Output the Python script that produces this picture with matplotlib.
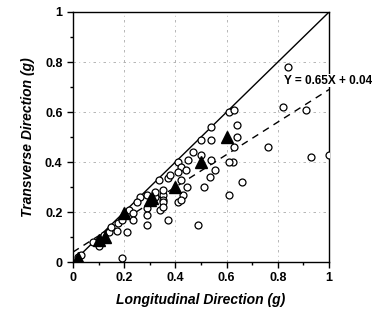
import numpy as np
import matplotlib
matplotlib.use("Agg")
import matplotlib.pyplot as plt

plt.rcParams["font.family"] = ["Liberation Sans", "DejaVu Sans"]

# open circles: individual records (longitudinal, transverse)
circ_x = [0.02, 0.03, 0.08, 0.10, 0.12, 0.14, 0.15, 0.17, 0.175, 0.19, 0.21, 0.22, 0.235, 0.235,
          0.19, 0.26, 0.25, 0.29, 0.32, 0.35, 0.29, 0.29, 0.29, 0.34, 0.335, 0.37, 0.38, 0.35,
          0.32, 0.35, 0.35, 0.35, 0.37, 0.41, 0.45, 0.42, 0.44, 0.41, 0.42, 0.445, 0.43, 0.41,
          0.42, 0.47, 0.50, 0.50, 0.54, 0.54, 0.54, 0.555, 0.535, 0.51, 0.49, 0.61, 0.63, 0.64,
          0.64, 0.63, 0.625, 0.61, 0.66, 0.61, 0.76, 0.82, 0.84, 0.91, 0.93, 1.0]
circ_y = [0.02, 0.03, 0.08, 0.065, 0.11, 0.12, 0.14, 0.125, 0.155, 0.17, 0.12, 0.21, 0.195, 0.17,
          0.015, 0.26, 0.24, 0.27, 0.26, 0.27, 0.215, 0.19, 0.15, 0.21, 0.33, 0.335, 0.35, 0.29,
          0.28, 0.25, 0.24, 0.22, 0.17, 0.40, 0.41, 0.38, 0.37, 0.36, 0.33, 0.30, 0.27, 0.24,
          0.25, 0.44, 0.43, 0.49, 0.49, 0.41, 0.54, 0.37, 0.34, 0.30, 0.15, 0.60, 0.61, 0.55,
          0.50, 0.46, 0.40, 0.40, 0.32, 0.27, 0.46, 0.62, 0.78, 0.61, 0.42, 0.43]

# filled triangles: binned averages
tri_x = [0.02, 0.10, 0.125, 0.20, 0.30, 0.31, 0.40, 0.50, 0.60]
tri_y = [0.015, 0.09, 0.10, 0.195, 0.25, 0.255, 0.30, 0.40, 0.50]

ticks = [0, 0.2, 0.4, 0.6, 0.8, 1.0]
tick_labels = ["0", "0.2", "0.4", "0.6", "0.8", "1"]
minor_ticks = [0.1, 0.3, 0.5, 0.7, 0.9]

slope, intercept = 0.65, 0.04

fig = plt.figure(figsize=(3.84, 3.2), dpi=100)
ax = fig.add_axes([0.19, 0.181, 0.667, 0.7815])

line_x = np.array([0.0, 1.0])
ax.plot(line_x, line_x, color="black", lw=1.0, zorder=3)
ax.plot(line_x, slope * line_x + intercept, color="black", lw=1.0,
        linestyle=(0, (5, 4)), zorder=3)

ax.plot(circ_x, circ_y, linestyle="none", marker="o", markersize=5,
        markerfacecolor="white", markeredgecolor="black", markeredgewidth=0.9, zorder=4)
ax.plot(tri_x, tri_y, linestyle="none", marker="^", markersize=8,
        color="black", zorder=5)

ax.text(0.825, 0.725, "Y = 0.65X + 0.04", fontsize=8.5, fontweight="bold",
        ha="left", va="center", clip_on=False,
        bbox=dict(facecolor="white", edgecolor="none", pad=0.5), zorder=6)

ax.set_xlim(0, 1)
ax.set_ylim(0, 1)
ax.set_xticks(ticks)
ax.set_yticks(ticks)
ax.set_xticks(minor_ticks, minor=True)
ax.set_yticks(minor_ticks, minor=True)
ax.set_xticklabels(tick_labels, fontweight="bold")
ax.set_yticklabels(tick_labels, fontweight="bold")
ax.tick_params(which="both", direction="out", width=1.0, labelsize=9)
ax.tick_params(which="major", length=4)
ax.tick_params(which="minor", length=2.5)

ax.grid(True, which="major", color="#aaaaaa", lw=0.6, linestyle=(0, (3, 4, 1, 4)))
ax.set_axisbelow(True)
for s in ax.spines.values():
    s.set_linewidth(1.0)

ax.set_xlabel("Longitudinal Direction (g)", fontsize=10, fontweight="bold",
              fontstyle="italic", labelpad=6)
ax.set_ylabel("Transverse Direction (g)", fontsize=10, fontweight="bold",
              fontstyle="italic", labelpad=7)

fig.savefig("out.png", dpi=100)
